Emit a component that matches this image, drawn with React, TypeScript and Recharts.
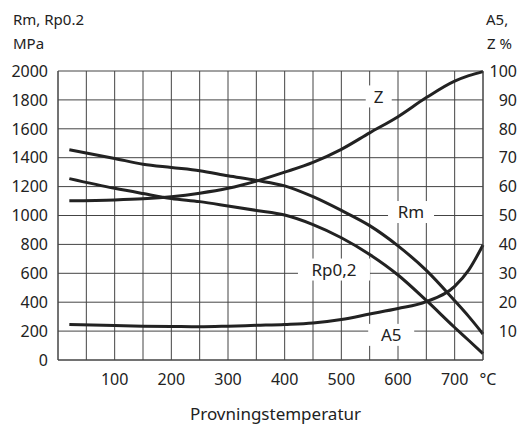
import { LineChart, Line, XAxis, YAxis, CartesianGrid, ReferenceDot } from 'recharts';

// temperatures in °C, shared by all curves
const temps = [20, 100, 150, 200, 250, 300, 350, 400, 450, 500, 550, 600, 650, 700, 725, 750];
// MPa
const rm = [1455, 1395, 1355, 1332, 1310, 1275, 1243, 1205, 1130, 1035, 930, 790, 620, 410, 300, 180];
const rp = [1255, 1188, 1152, 1118, 1096, 1066, 1035, 1003, 937, 846, 730, 588, 412, 225, 135, 44];
// %
const z = [55.1, 55.4, 55.8, 56.5, 57.7, 59.4, 61.9, 65.0, 68.4, 72.9, 78.6, 84.2, 90.8, 96.5, 98.4, 99.8];
const a5 = [12.3, 11.9, 11.7, 11.6, 11.5, 11.7, 12.0, 12.3, 12.8, 14.0, 15.9, 17.8, 20.2, 25.5, 31.2, 39.8];

const xTicks = [0, 50, 100, 150, 200, 250, 300, 350, 400, 450, 500, 550, 600, 650, 700, 750];
const xLabels = [100, 200, 300, 400, 500, 600, 700];
const leftTicks = [0, 200, 400, 600, 800, 1000, 1200, 1400, 1600, 1800, 2000];
const rightTicks = [0, 10, 20, 30, 40, 50, 60, 70, 80, 90, 100];

// curve names placed on the chart: [text, temperature, value, axis, box width]
const curveLabels: [string, number, number, string, number][] = [
  ['Z', 566, 91.2, 'right', 26],
  ['Rm', 623, 1024, 'left', 46],
  ['Rp0,2', 487, 626, 'left', 72],
  ['A5', 588, 8.7, 'right', 46],
];

const data = temps.map((t, i) => ({ t, rm: rm[i], rp: rp[i], z: z[i], a5: a5[i] }));

const FONT = '"Noto Sans", sans-serif';
const INK = '#222';

const XTick = (props: any) => {
  const { x, y, payload } = props;
  let text = '';
  if (xLabels.includes(payload.value)) text = String(payload.value);
  if (payload.value === 750) text = '°C';
  if (!text) return null;
  return (
    <text x={x + (payload.value === 750 ? 5 : 0)} y={y + 17} textAnchor="middle" fontSize={16} fill={INK} fontFamily={FONT}>
      {text}
    </text>
  );
};

const LeftTick = (props: any) => {
  const { x, y, payload } = props;
  return (
    <text x={x - 2} y={y} dy="0.36em" textAnchor="end" fontSize={16} fill={INK} fontFamily={FONT}>
      {payload.value}
    </text>
  );
};

const RightTick = (props: any) => {
  const { x, y, payload } = props;
  if (payload.value === 0) return null;
  return (
    <text x={x + 26} y={y} dy="0.36em" textAnchor="end" fontSize={16} fill={INK} fontFamily={FONT}>
      {payload.value}
    </text>
  );
};

const boxLabel = (text: string, w: number) => (props: any) => {
  const { cx, cy } = props;
  return (
    <g>
      <rect x={cx - w / 2} y={cy - 11} width={w} height={22} fill="#fff" />
      <text x={cx} y={cy} dy="0.36em" textAnchor="middle" fontSize={17} fill={INK} fontFamily={FONT}>
        {text}
      </text>
    </g>
  );
};

const textStyle: any = { position: 'absolute', fontFamily: FONT, fontSize: 15, color: INK, lineHeight: '20px', whiteSpace: 'nowrap' };

export default function App() {
  return (
    <div style={{ position: 'absolute', left: 0, top: 0, width: 523, height: 430, background: '#fff' }}>
      <div style={{ ...textStyle, left: 13, top: 9 }}>Rm, Rp0.2</div>
      <div style={{ ...textStyle, left: 13, top: 33 }}>MPa</div>
      <div style={{ ...textStyle, left: 486, top: 9 }}>A5,</div>
      <div style={{ ...textStyle, left: 487, top: 33 }}>Z %</div>
      <div style={{ ...textStyle, left: 0, width: 551, textAlign: 'center', top: 404, fontSize: 17 }}>Provningstemperatur</div>
      <LineChart width={523} height={430} data={data} margin={{ top: 71, right: 0, bottom: 0, left: 0 }}>
        <CartesianGrid yAxisId="left" stroke="#444" strokeWidth={1} />
        <XAxis
          dataKey="t"
          type="number"
          domain={[0, 750]}
          ticks={xTicks}
          height={70}
          interval={0}
          tickLine={false}
          axisLine={{ stroke: '#444' }}
          tick={<XTick />}
        />
        <YAxis
          yAxisId="left"
          type="number"
          domain={[0, 2000]}
          ticks={leftTicks}
          width={58}
          interval={0}
          tickLine={false}
          axisLine={{ stroke: '#444' }}
          tick={<LeftTick />}
        />
        <YAxis
          yAxisId="right"
          orientation="right"
          type="number"
          domain={[0, 100]}
          ticks={rightTicks}
          width={40}
          interval={0}
          tickLine={false}
          axisLine={{ stroke: '#444' }}
          tick={<RightTick />}
        />
        <Line yAxisId="left" dataKey="rm" type="monotone" stroke={INK} strokeWidth={3} dot={false} isAnimationActive={false} />
        <Line yAxisId="left" dataKey="rp" type="monotone" stroke={INK} strokeWidth={3} dot={false} isAnimationActive={false} />
        <Line yAxisId="right" dataKey="z" type="monotone" stroke={INK} strokeWidth={3} dot={false} isAnimationActive={false} />
        <Line yAxisId="right" dataKey="a5" type="monotone" stroke={INK} strokeWidth={3} dot={false} isAnimationActive={false} />
        {curveLabels.map(([text, t, v, axis, w]) => (
          <ReferenceDot
            key={text}
            x={t}
            y={v}
            yAxisId={axis}
            r={0}
            ifOverflow="visible"
            shape={boxLabel(text, w)}
          />
        ))}
      </LineChart>
    </div>
  );
}
